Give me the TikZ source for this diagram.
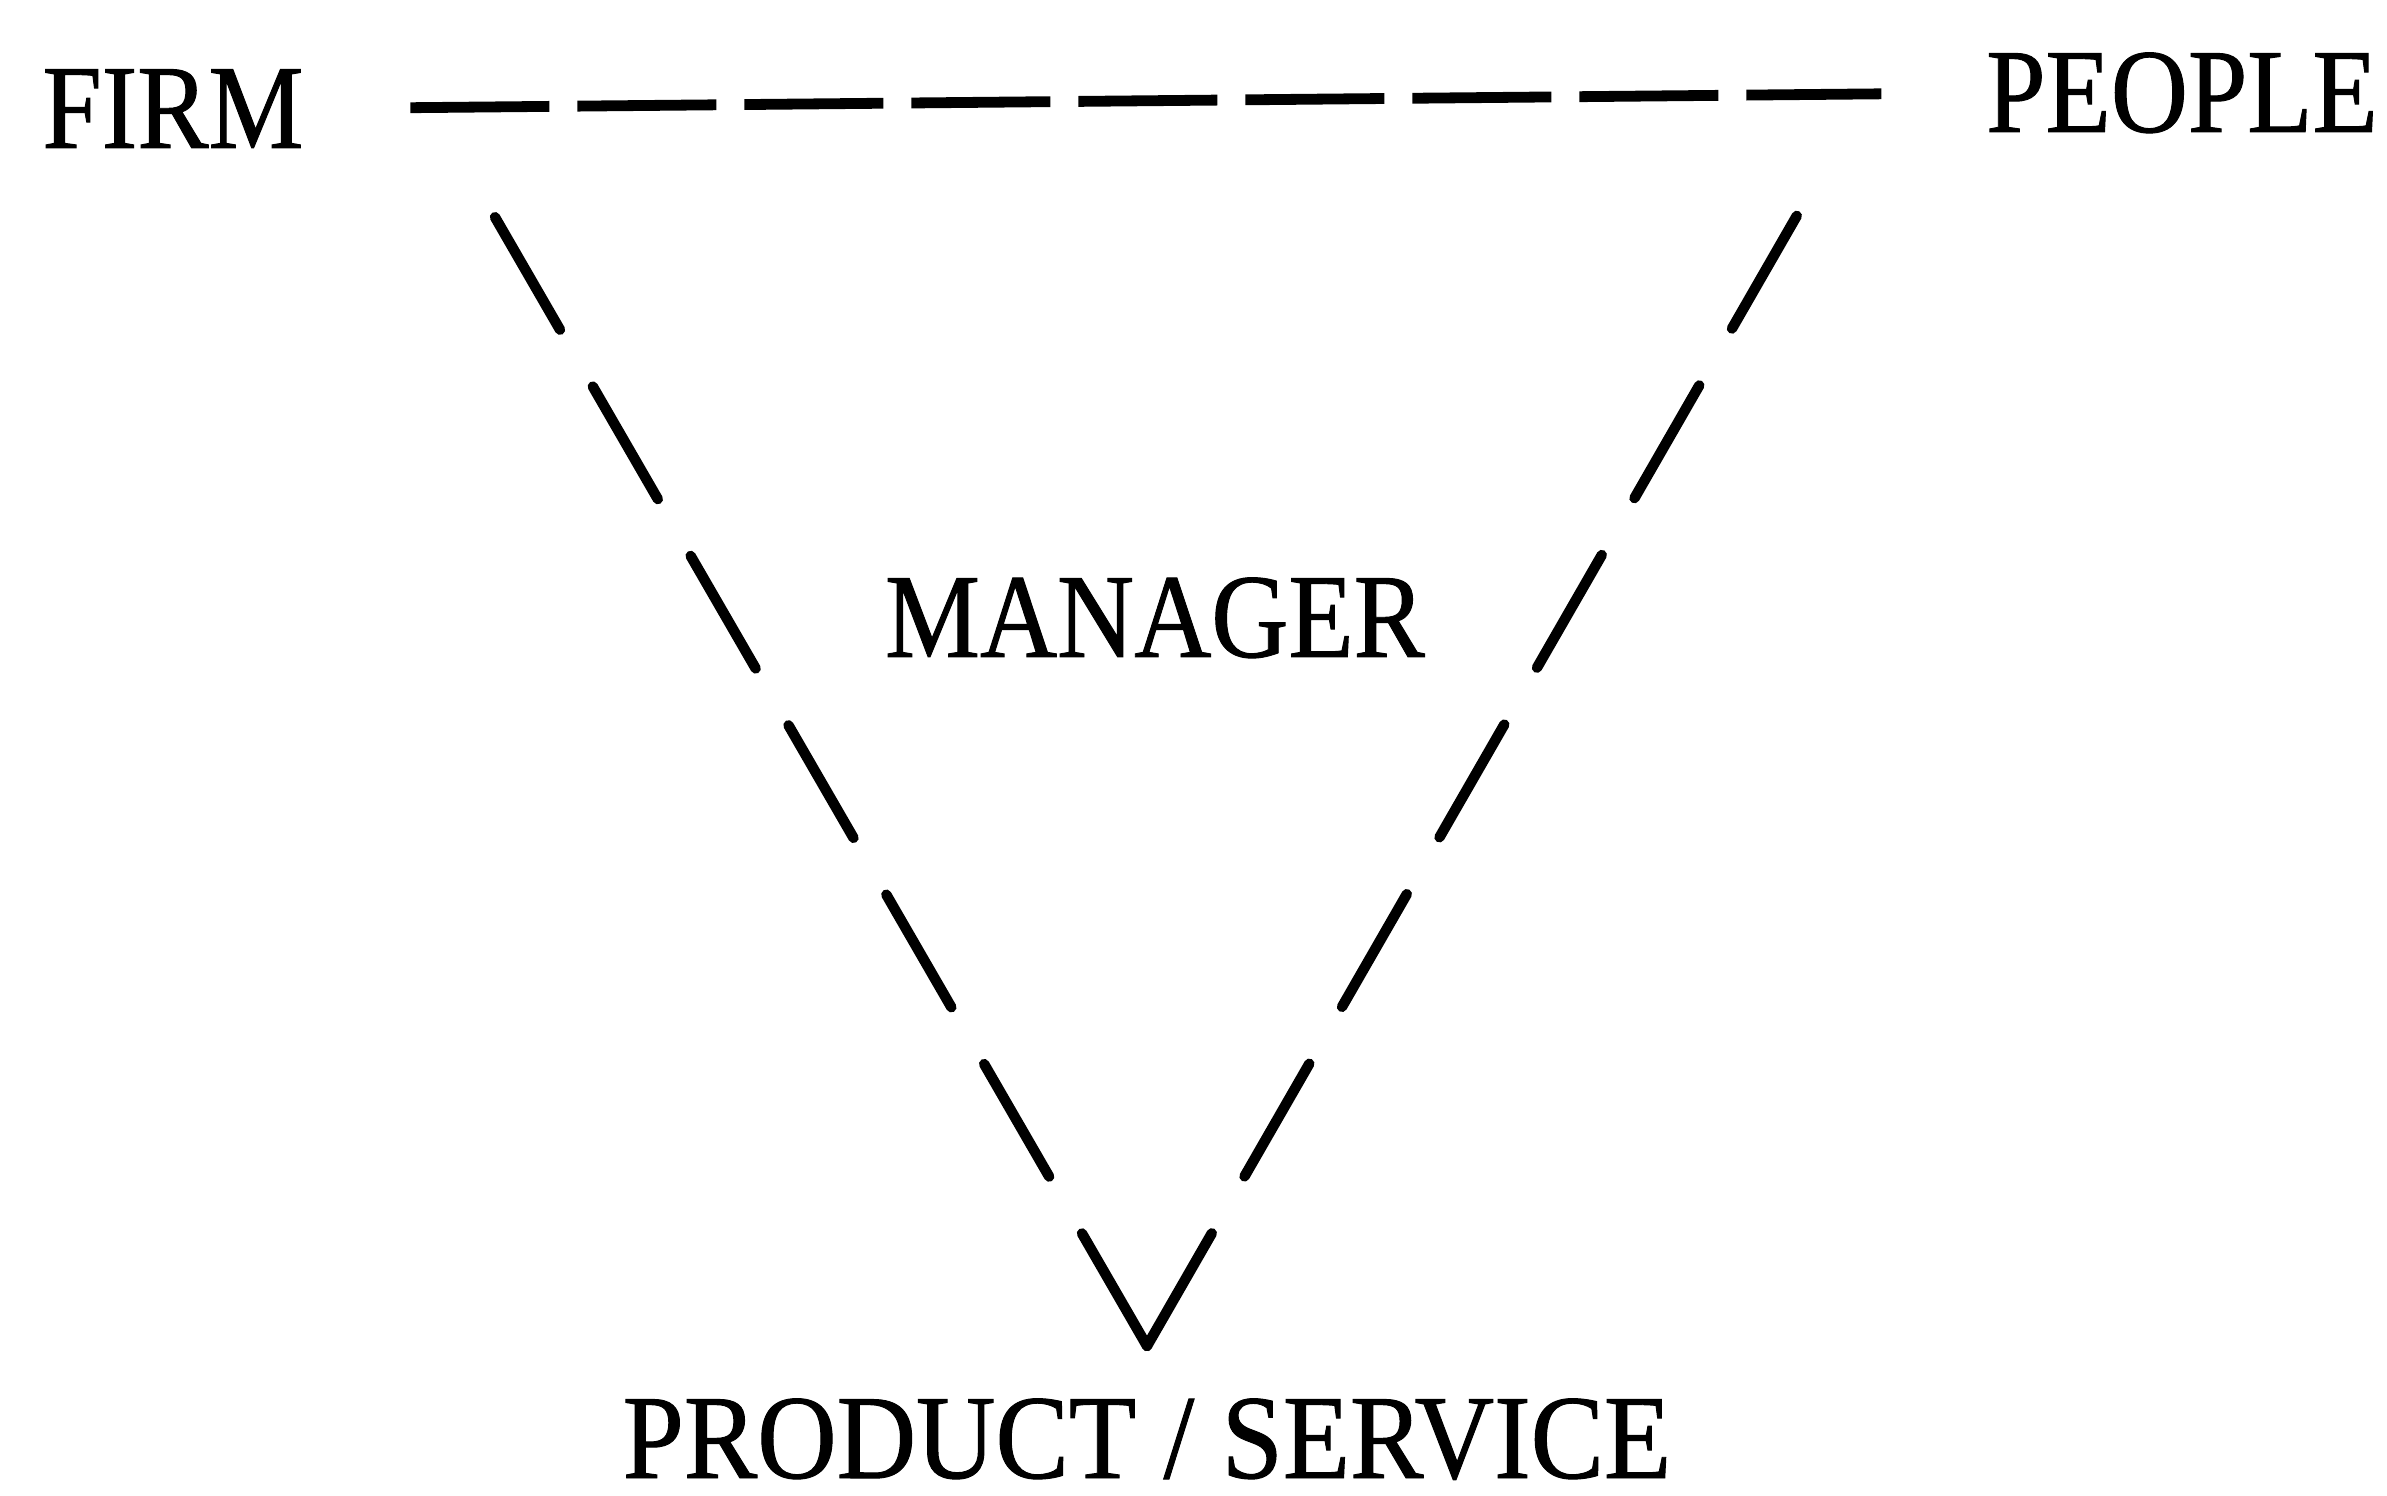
\documentclass[tikz,border=0pt]{standalone}
\usepackage{fontspec}
\setmainfont[FakeStretch=0.89,FakeBold=0.8]{Liberation Serif}
\begin{document}
\begin{tikzpicture}[x=0.25pt,y=-0.25pt,
  lbl/.style={inner sep=0pt,anchor=base,font=\fontsize{30}{36}\selectfont},
  hdash/.style={line width=2.7pt,dash pattern=on 34.75pt off 7pt},
  ddash/.style={line width=2.6pt,line cap=round,dash pattern=on 32.5pt off 16.4pt}]
\useasboundingbox (0,0) rectangle (2387,1496);
\node[lbl] (firm) at (173,148) {FIRM};
\node[lbl] (people) at (2182,132) {PEOPLE};
\node[lbl] (manager) at (1155,657) {MANAGER};
\node[lbl] (prod) at (1147,1478) {\scalebox{1.03}[1]{PRODUCT / SERVICE}};
\coordinate (lt) at (492,212);
\coordinate (rt) at (1803,205);
\coordinate (v) at (1147,1346);
\draw[hdash,shorten <=26.5pt,shorten >=26pt] (firm.east) -- (people.west);
\draw[ddash] (v) -- (lt);
\draw[ddash] (v) -- (rt);
\end{tikzpicture}
\end{document}
